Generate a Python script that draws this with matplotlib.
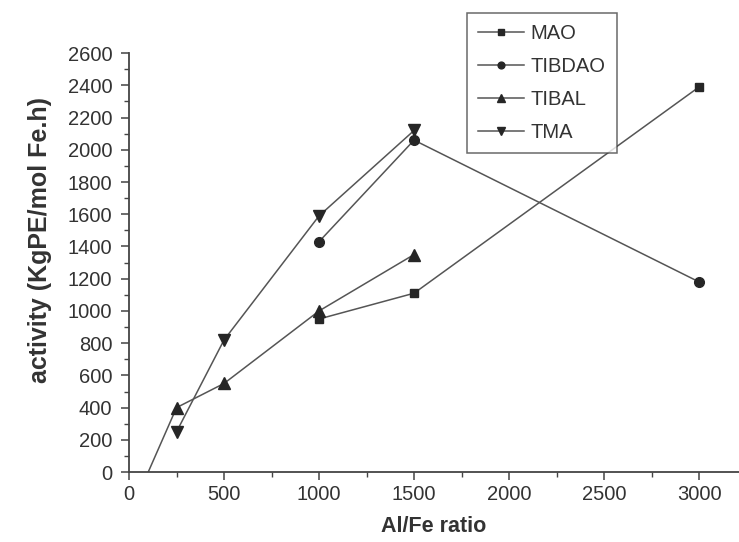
"""Polymerization activity vs Al/Fe ratio for different cocatalysts."""
import matplotlib
matplotlib.use("Agg")
import matplotlib.pyplot as plt
from matplotlib.ticker import MultipleLocator

plt.rcParams["font.family"] = ["Liberation Sans", "DejaVu Sans"]

mao_x = [1000, 1500, 3000]
mao_y = [950, 1110, 2390]

tibdao_x = [1000, 1500, 3000]
tibdao_y = [1430, 2060, 1180]

# first point lies below the axis, only its connecting line shows
tibal_x = [60, 250, 500, 1000, 1500]
tibal_y = [-110, 400, 550, 1000, 1350]

tma_x = [250, 500, 1000, 1500]
tma_y = [250, 820, 1590, 2120]

LINE = "#555555"
MARK = "#262626"

fig = plt.figure(figsize=(7.39, 5.42), dpi=100)
ax = fig.add_axes([0.1746, 0.129, 0.8254, 0.773])

style = dict(color=LINE, lw=1.1, markerfacecolor=MARK, markeredgecolor=MARK)
ax.plot(mao_x, mao_y, marker="s", ms=6, label="MAO", **style)
ax.plot(tibdao_x, tibdao_y, marker="o", ms=7, label="TIBDAO", **style)
ax.plot(tibal_x, tibal_y, marker="^", ms=8, markevery=[1, 2, 3, 4],
        label="TIBAL", **style)
ax.plot(tma_x, tma_y, marker="v", ms=8, label="TMA", **style)

ax.set_xlim(0, 3210)
ax.set_ylim(0, 2600)
ax.xaxis.set_major_locator(MultipleLocator(500))
ax.xaxis.set_minor_locator(MultipleLocator(250))
ax.yaxis.set_major_locator(MultipleLocator(200))
ax.yaxis.set_minor_locator(MultipleLocator(100))

for side in ("top", "right"):
    ax.spines[side].set_visible(False)
for side in ("left", "bottom"):
    ax.spines[side].set_color("#444444")
    ax.spines[side].set_linewidth(1.3)

ax.tick_params(which="major", length=6, width=1.1, color="#444444",
               labelsize=14.5, labelcolor="#333333", pad=3)
ax.tick_params(axis="y", which="major", pad=6)
ax.tick_params(which="minor", length=3.5, width=1.0, color="#444444")

ax.set_xlabel("Al/Fe ratio", fontsize=15.5, fontweight="bold", color="#333333", labelpad=9)
ax.set_ylabel("activity (KgPE/mol Fe.h)", fontsize=18, fontweight="bold",
              color="#333333")
ax.yaxis.set_label_coords(-0.126, 0.554)

leg = ax.legend(loc="upper left", bbox_to_anchor=(467 / 739, 1 - 13 / 542),
                bbox_transform=fig.transFigure, fontsize=14.5, frameon=True,
                fancybox=False, edgecolor="#444444", handlelength=2.3,
                handletextpad=0.3, labelspacing=0.7, borderpad=0.55,
                borderaxespad=0, markerscale=0.7)
leg.get_frame().set_linewidth(1.1)
for t in leg.get_texts():
    t.set_color("#333333")

fig.savefig("out.png", dpi=100)
plt.close(fig)
